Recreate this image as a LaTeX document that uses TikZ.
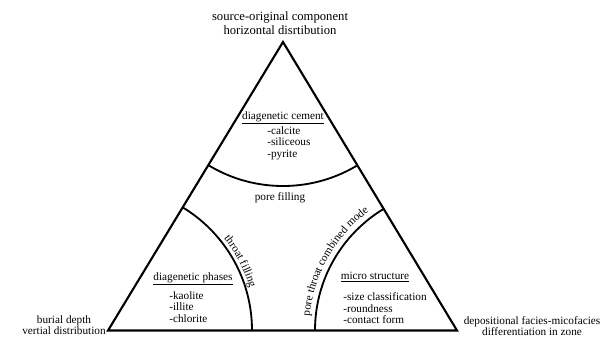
\documentclass[tikz,border=0pt]{standalone}
\usepackage{fontspec}
\setmainfont{Liberation Serif}
\usetikzlibrary{positioning}
\usetikzlibrary{decorations.text}

\begin{document}
\begin{tikzpicture}[x=0.025cm,y=0.025cm,
  side/.style={line width=1.5pt,line join=miter},
  zone/.style={line width=1.3pt},
  corner/.style={font=\fontsize{8}{7.8}\selectfont,align=center,inner sep=0pt},
  title/.style={font=\fontsize{8}{9}\selectfont,inner sep=0pt},
  items/.style={font=\fontsize{8}{8.2}\selectfont,align=left,anchor=west,inner sep=0pt}]
\useasboundingbox (0,0) rectangle (603,336);
\coordinate (top) at (283,294);
\coordinate (left) at (108,5.5);
\coordinate (right) at (457,5.5);

% zone boundaries
\begin{scope}
\clip (top) -- (left) -- (right) -- cycle;
\draw[zone] (top) circle (144);
\draw[zone] (left) circle (144);
\draw[zone] (right) circle (142);
\end{scope}
\draw[side] (top) -- (left) -- (right) -- cycle;

% corner labels
\node[corner,font=\fontsize{9}{10}\selectfont] (source) at (280,313) {source-original component\\horizontal disrtibution};
\node[corner,anchor=east] (burial) at (106,10.5) {burial depth\\vertial distribution};
\node[corner] (facies) at (532,10) {depositional facies-micofacies\\differentiation in zone};

% zone contents
\node[title] (cement) at (283,218) {\underline{diagenetic cement}};
\node[items] (cementlist) at (267,193) {-calcite\\-siliceous\\-pyrite};
\node[title] (pore) at (280,138) {pore filling};
\node[title] (phases) at (193,57) {\underline{diagenetic phases}};
\node[items] (phaseslist) at (169,29) {-kaolite\\-illite\\-chlorite};
\node[title] (micro) at (375,59) {\underline{micro structure}};
\node[items] (microlist) at (343,27.5) {-size classification\\-roundness\\-contact form};

% texts along the arcs
\path[decorate,decoration={text along path,text align=center,
  text={|\fontsize{8}{8}\selectfont|throat filling}}]
  (left) ++(55:148) arc[start angle=55,end angle=0,radius=148];
\path[decorate,decoration={text along path,text align=center,
  text={|\fontsize{8}{8}\selectfont|pore throat combined mode}}]
  (right) ++(180:148) arc[start angle=180,end angle=121,radius=148];

\end{tikzpicture}
\end{document}
